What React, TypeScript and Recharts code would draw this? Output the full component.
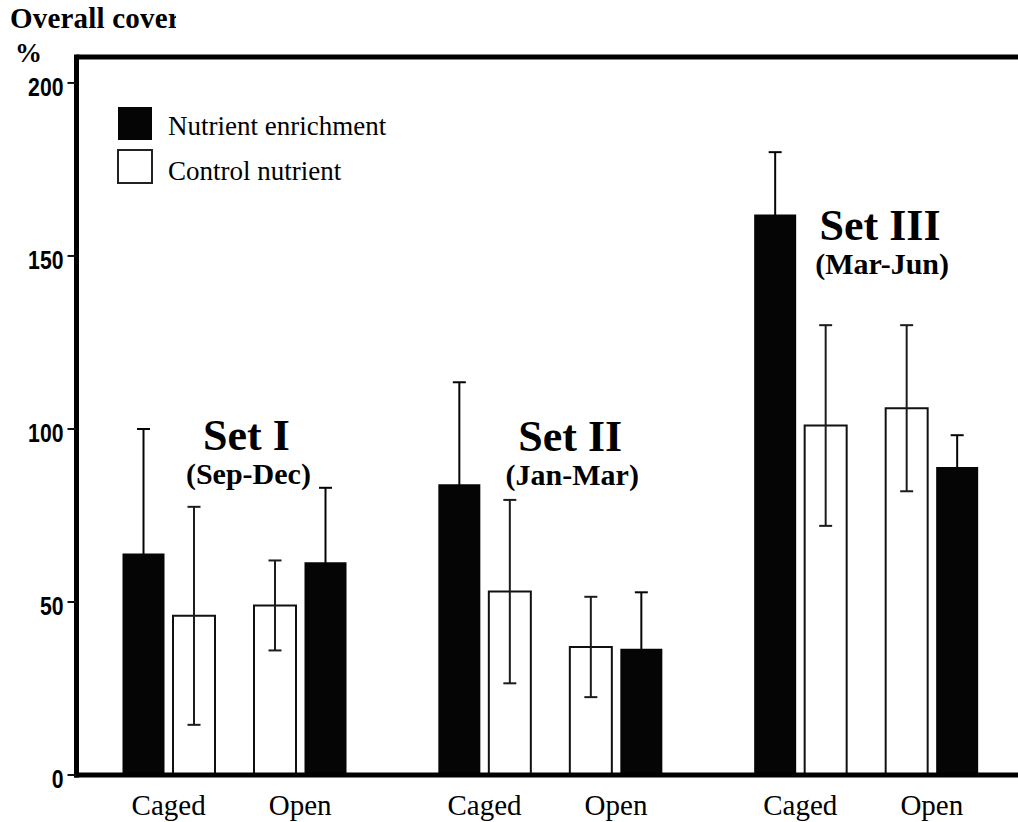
import React from 'react';
import { BarChart, Bar, XAxis, YAxis, ErrorBar, Legend, ReferenceLine, ReferenceDot } from 'recharts';

const sets = ['Set I', 'Set II', 'Set III'];
const periods = ['(Sep-Dec)', '(Jan-Mar)', '(Mar-Jun)'];
const treatments = ['Caged', 'Open'];
const legendNames = ['Nutrient enrichment', 'Control nutrient'];

// mean overall cover (%) and its error
const cagedEnriched = [64, 84, 162];
const cagedEnrichedSe = [36, 29.5, 18];
const cagedControl = [46, 53, 101];
const cagedControlSe = [31.5, 26.5, 29];
const openControl = [49, 37, 106];
const openControlSe = [13, 14.5, 24];
const openEnriched = [61.5, 36.5, 89];
const openEnrichedSe = [21.5, 16.3, 9.2];

const yTicks = [0, 50, 100, 150, 200];
const Y_MAX = 207.5;

// caption placement: value level of the "Set" baseline, and a small nudge right
const captionLevel = [94, 93.5, 154.5];
const captionNudge = [12, 20, 14];

const SERIF = "'Liberation Serif', 'Times New Roman', Times, serif";
const SANS = "'Liberation Sans', Arial, sans-serif";

const BAR = 42;
const GAP = 8.5;
const SPACER = 22;
const PAIR_OFFSET = SPACER / 2 + GAP + BAR + GAP / 2;

const data = sets.map((s, i) => ({
  set: s,
  cagedEnriched: cagedEnriched[i],
  cagedEnrichedSe: cagedEnrichedSe[i],
  cagedControl: cagedControl[i],
  cagedControlSe: cagedControlSe[i],
  openControl: openControl[i],
  openControlSe: openControlSe[i],
  openEnriched: openEnriched[i],
  openEnrichedSe: openEnrichedSe[i],
}));

const PairTick = ({ x, y }: any) => (
  <g>
    {treatments.map((t, i) => (
      <text
        key={t}
        x={x + (i === 0 ? -PAIR_OFFSET : PAIR_OFFSET)}
        y={y}
        dy={32}
        textAnchor="middle"
        fontFamily={SERIF}
        fontSize={29}
        fill="#000"
      >
        {t}
      </text>
    ))}
  </g>
);

// narrow bold digits like the original
const ValueTick = ({ x, y, payload }: any) => {
  const label = String(payload.value);
  return (
    <text
      x={x}
      y={y}
      dy={13}
      textAnchor="end"
      fontFamily={SANS}
      fontWeight="bold"
      fontSize={26}
      textLength={label.length * 11.8}
      lengthAdjust="spacingAndGlyphs"
      fill="#000"
    >
      {label}
    </text>
  );
};

const captionLabel = (i: number) => ({ viewBox }: any) => {
  const cx = viewBox.x + (viewBox.width || 0) / 2 + captionNudge[i];
  const cy = viewBox.y + (viewBox.height || 0) / 2;
  return (
    <g>
      <text x={cx} y={cy} textAnchor="middle" fontFamily={SERIF} fontWeight="bold" fontSize={44} fill="#000">
        {sets[i]}
      </text>
      <text x={cx + 2} y={cy + 34} textAnchor="middle" fontFamily={SERIF} fontWeight="bold" fontSize={30} fill="#000">
        {periods[i]}
      </text>
    </g>
  );
};

const LegendBox = ({ payload }: any) => {
  const items = legendNames
    .map((n) => (payload || []).find((p: any) => p.value === n))
    .filter(Boolean);
  return (
    <svg width={300} height={90}>
      {items.map((p: any, i: number) => {
        const white = p.color === '#fff';
        return (
          <g key={p.value}>
            <rect
              x={1}
              y={2 + i * 43}
              width={34}
              height={33}
              fill={p.color}
              stroke={white ? '#222' : 'none'}
              strokeWidth={2}
            />
            <text x={51} y={30 + i * 45} fontFamily={SERIF} fontSize={27} fill="#000">
              {p.value}
            </text>
          </g>
        );
      })}
    </svg>
  );
};

export default function App() {
  return (
    <div style={{ position: 'absolute', left: 0, top: 0, width: 1018, height: 822, overflow: 'hidden', background: '#fff' }}>
      <BarChart width={1030} height={822} data={data} margin={{ top: 57, right: 6, bottom: 0, left: 0 }} barGap={GAP}>
        <XAxis
          dataKey="set"
          height={47}
          axisLine={{ stroke: '#000', strokeWidth: 5, strokeLinecap: 'square' }}
          tickLine={false}
          tickSize={8}
          tickMargin={0}
          tick={<PairTick />}
        />
        <YAxis
          width={76.5}
          domain={[0, Y_MAX]}
          ticks={yTicks}
          allowDataOverflow
          axisLine={{ stroke: '#000', strokeWidth: 5, strokeLinecap: 'square' }}
          tickLine={{ stroke: '#111', strokeWidth: 2 }}
          tickSize={9}
          tickMargin={4}
          tick={<ValueTick />}
        />
        <ReferenceLine y={Y_MAX} stroke="#000" strokeWidth={5} />
        <Legend
          layout="horizontal"
          verticalAlign="middle"
          content={<LegendBox />}
          wrapperStyle={{ left: 117, top: 105, width: 300, height: 90 }}
        />
        <Bar dataKey="cagedEnriched" name="Nutrient enrichment" fill="#050505" barSize={BAR} isAnimationActive={false}>
          <ErrorBar dataKey="cagedEnrichedSe" width={6.5} stroke="#050505" strokeWidth={2} />
        </Bar>
        <Bar dataKey="cagedControl" name="Control nutrient" fill="#fff" stroke="#111" strokeWidth={2} barSize={BAR} isAnimationActive={false}>
          <ErrorBar dataKey="cagedControlSe" width={6.5} stroke="#1c1c1c" strokeWidth={2} />
        </Bar>
        <Bar dataKey="gap" legendType="none" fill="none" barSize={SPACER} isAnimationActive={false} />
        <Bar dataKey="openControl" name="Control nutrient" fill="#fff" stroke="#111" strokeWidth={2} barSize={BAR} isAnimationActive={false}>
          <ErrorBar dataKey="openControlSe" width={6.5} stroke="#1c1c1c" strokeWidth={2} />
        </Bar>
        <Bar dataKey="openEnriched" name="Nutrient enrichment" fill="#050505" barSize={BAR} isAnimationActive={false}>
          <ErrorBar dataKey="openEnrichedSe" width={6.5} stroke="#050505" strokeWidth={2} />
        </Bar>
        {sets.map((s, i) => (
          <ReferenceDot key={s} x={s} y={captionLevel[i]} r={0} fill="none" stroke="none" label={{ content: captionLabel(i) }} />
        ))}
      </BarChart>
      <svg
        width={176}
        height={70}
        style={{ position: 'absolute', left: 0, top: 0, pointerEvents: 'none' }}
      >
        <text x={10} y={28} fontFamily={SERIF} fontWeight="bold" fontSize={29} letterSpacing={0.2} fill="#000">
          Overall cover
        </text>
        <text x={15} y={62} fontFamily={SERIF} fontWeight="bold" fontSize={27} fill="#000">
          %
        </text>
      </svg>
    </div>
  );
}
